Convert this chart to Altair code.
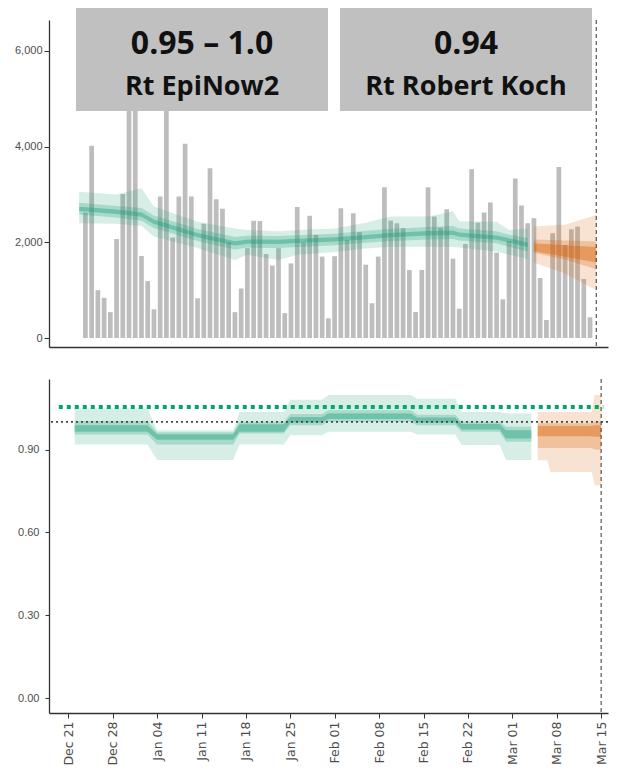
import altair as alt
import pandas as pd

# ---------------- data ----------------
# daily reported cases (bars), 2020-12-23 .. 2021-03-14
case_first_day = "2020-12-23"
cases = [2620, 4020, 1000, 840, 540, 2070, 3010, 5600, 6100,
         1715, 1190, 600, 2960, 5300, 2100, 2960, 4060, 2960, 830,
         2390, 3550, 2900, 2700, 2000, 540, 1035, 1880, 2450, 2445,
         1755, 1515, 1878, 520, 1560, 2740, 2000, 2555, 2155, 1702, 411,
         1710, 2713, 2050, 2608, 2211, 1534, 726, 1702, 3152, 2454,
         2399, 2294, 1423, 544, 1423, 3152, 2538, 2308, 2692, 1660,
         614, 1967, 3529, 2413, 2622, 2831, 1785, 809,
         2029, 3333, 2768, 2399, 2504, 1255, 377, 2190, 3577, 1946,
         2274, 2329, 1234, 433]

# estimated cases (green), credible bands
est_dates = ["2020-12-22", "2020-12-28", "2021-01-01", "2021-01-03", "2021-01-10",
             "2021-01-16", "2021-01-18", "2021-01-23", "2021-01-26", "2021-02-01",
             "2021-02-06", "2021-02-10", "2021-02-16", "2021-02-20", "2021-02-21",
             "2021-02-27", "2021-03-01", "2021-03-04"]
est_l90 = [2400, 2390, 2340, 2120, 1880, 1630, 1740, 1630, 1740, 1800, 1870, 1910, 1910, 1900, 1890, 1810, 1740, 1650]
est_u90 = [3060, 3000, 3130, 2750, 2430, 2290, 2260, 2230, 2260, 2290, 2410, 2540, 2540, 2650, 2440, 2430, 2260, 2290]
est_l50 = [2580, 2520, 2450, 2300, 2030, 1850, 1890, 1880, 1900, 1940, 1990, 2030, 2060, 2070, 2040, 1980, 1910, 1810]
est_u50 = [2830, 2760, 2720, 2560, 2280, 2110, 2140, 2130, 2150, 2180, 2240, 2280, 2320, 2340, 2290, 2230, 2160, 2090]
est_l20 = [2655, 2595, 2535, 2385, 2105, 1935, 1970, 1965, 1985, 2015, 2065, 2105, 2145, 2155, 2115, 2055, 1995, 1905]
est_u20 = [2745, 2685, 2625, 2475, 2195, 2025, 2060, 2055, 2075, 2105, 2155, 2195, 2235, 2245, 2205, 2145, 2085, 1995]

# forecast cases (orange)
fc_dates = ["2021-03-05", "2021-03-10", "2021-03-15"]
fc_l90 = [1580, 1350, 1000]
fc_u90 = [2330, 2370, 2570]
fc_l50 = [1780, 1640, 1440]
fc_u50 = [2060, 2040, 2015]
fc_l20 = [1810, 1700, 1580]
fc_u20 = [1980, 1940, 1900]

# Rt estimate (green)
rt_dates = ["2020-12-22T00:00", "2021-01-02T12:00", "2021-01-04T00:00", "2021-01-16T00:00",
            "2021-01-17T00:00", "2021-01-24T00:00", "2021-01-25T00:00", "2021-01-30T00:00",
            "2021-01-31T00:00", "2021-02-13T00:00", "2021-02-14T00:00", "2021-02-20T00:00",
            "2021-02-21T00:00", "2021-02-27T00:00", "2021-02-28T00:00", "2021-03-04T00:00"]
rt_l90 = [0.918, 0.918, 0.862, 0.862, 0.918, 0.918, 0.952, 0.952, 0.964, 0.964, 0.954, 0.954, 0.916, 0.916, 0.862, 0.862]
rt_l50 = [0.954, 0.954, 0.918, 0.918, 0.958, 0.958, 0.988, 0.988, 1.000, 1.000, 0.988, 0.988, 0.964, 0.964, 0.928, 0.928]
rt_l20 = [0.964, 0.964, 0.935, 0.935, 0.964, 0.964, 0.998, 0.998, 1.010, 1.010, 0.998, 0.998, 0.972, 0.972, 0.940, 0.940]
rt_u20 = [0.988, 0.988, 0.955, 0.955, 0.991, 0.991, 1.018, 1.018, 1.030, 1.030, 1.016, 1.016, 0.992, 0.992, 0.970, 0.970]
rt_u50 = [1.003, 1.003, 0.962, 0.962, 1.000, 1.000, 1.028, 1.028, 1.042, 1.042, 1.026, 1.026, 1.000, 1.000, 0.982, 0.982]
rt_u90 = [1.048, 1.048, 0.970, 0.970, 1.036, 1.036, 1.080, 1.080, 1.097, 1.097, 1.084, 1.084, 1.036, 1.036, 1.030, 1.030]

# Rt forecast (orange)
rtf_dates = ["2021-03-05T00:00", "2021-03-06T12:00", "2021-03-07T00:00",
             "2021-03-13T12:00", "2021-03-14T00:00", "2021-03-15T00:00"]
rtf_l90 = [0.861, 0.861, 0.819, 0.819, 0.771, 0.771]
rtf_l50 = [0.905, 0.905, 0.905, 0.905, 0.900, 0.900]
rtf_l20 = [0.948, 0.948, 0.948, 0.948, 0.946, 0.946]
rtf_u20 = [0.985, 0.985, 0.985, 0.985, 0.988, 0.988]
rtf_u50 = [0.995, 0.995, 0.995, 0.995, 1.000, 1.000]
rtf_u90 = [1.036, 1.036, 1.036, 1.036, 1.097, 1.097]

# reference lines
rt_reference = 1.0
rki_line_value = 1.054
rki_line_dates = ["2020-12-19T12:00", "2021-03-15T08:00"]
forecast_date = ["2021-03-15"]

# axes
x_tick_dates = ["2020-12-21", "2020-12-28", "2021-01-04", "2021-01-11", "2021-01-18",
                "2021-01-25", "2021-02-01", "2021-02-08", "2021-02-15", "2021-02-22",
                "2021-03-01", "2021-03-08", "2021-03-15"]
x_domain = ["2020-12-17T23:00", "2021-03-16T02:00"]
cases_ticks = [0, 2000, 4000, 6000]
cases_domain = [-188, 6648]
rt_ticks = [0.0, 0.3, 0.6, 0.9]
rt_domain = [-0.053, 1.155]

# box annotations
box_values = ["0.95 – 1.0", "0.94"]
box_labels = ["Rt EpiNow2", "Rt Robert Koch"]

# ---------------- build ----------------
def dt(s):
    t = pd.Timestamp(s)
    return alt.DateTime(year=t.year, month=t.month, date=t.day, hours=t.hour, minutes=t.minute)

W = 559
H_TOP = 327
H_BOT = 334
GREEN = "#1B9E77"
ORANGE = "#D95F02"
AXC = "#333333"
LABC = "#4D4D4D"

xscale = alt.Scale(domain=[dt(d) for d in x_domain], nice=False)

def ts(lst):
    return pd.to_datetime(lst)

df_cases = pd.DataFrame({"date": pd.date_range(case_first_day, periods=len(cases), freq="D"),
                         "cases": cases})
df_est = pd.DataFrame({"date": ts(est_dates), "l90": est_l90, "u90": est_u90, "l50": est_l50,
                       "u50": est_u50, "l20": est_l20, "u20": est_u20})
df_fc = pd.DataFrame({"date": ts(fc_dates), "l90": fc_l90, "u90": fc_u90, "l50": fc_l50,
                      "u50": fc_u50, "l20": fc_l20, "u20": fc_u20})
df_rt = pd.DataFrame({"date": ts(rt_dates), "l90": rt_l90, "u90": rt_u90, "l50": rt_l50,
                      "u50": rt_u50, "l20": rt_l20, "u20": rt_u20})
df_rtf = pd.DataFrame({"date": ts(rtf_dates), "l90": rtf_l90, "u90": rtf_u90, "l50": rtf_l50,
                       "u50": rtf_u50, "l20": rtf_l20, "u20": rtf_u20})
df_vline = pd.DataFrame({"date": ts(forecast_date)})
df_rki = pd.DataFrame({"start": ts([rki_line_dates[0]]), "end": ts([rki_line_dates[1]]),
                       "value": [rki_line_value]})
df_ref = pd.DataFrame({"value": [rt_reference]})

ylab_font = "Liberation Sans Narrow, Liberation Sans, sans-serif"

top_x_axis = alt.Axis(labels=False, ticks=False, grid=False, title=None, domainColor=AXC,
                      domainWidth=1.3, maxExtent=0, minExtent=0)
bot_x_axis = alt.Axis(values=[dt(d) for d in x_tick_dates], format="%b %d", labelAngle=270,
                      labelFont="DejaVu Sans", labelFontSize=12.5, labelColor=LABC,
                      tickColor=AXC, tickSize=5, labelPadding=3, grid=False, title=None,
                      domainColor=AXC, domainWidth=1.3)
top_y_axis = alt.Axis(values=cases_ticks, format=",.0f", labelFont=ylab_font, labelFontSize=11,
                      labelColor=LABC, tickColor=AXC, tickSize=5, labelPadding=2, grid=False,
                      title=None, domainColor=AXC, domainWidth=1.3, minExtent=41, maxExtent=41)
bot_y_axis = alt.Axis(values=rt_ticks, format=".2f", labelFont=ylab_font, labelFontSize=11,
                      labelColor=LABC, tickColor=AXC, tickSize=4, labelPadding=6, grid=False,
                      title=None, domainColor=AXC, domainWidth=1.3, minExtent=41, maxExtent=41)

cscale = alt.Scale(domain=cases_domain, nice=False, zero=False)
rscale = alt.Scale(domain=rt_domain, nice=False, zero=False)

bars = alt.Chart(df_cases).mark_bar(color="#BDBDBD", size=4.7).encode(
    x=alt.X("date:T", scale=xscale, axis=top_x_axis),
    y=alt.Y("cases:Q", scale=cscale, axis=top_y_axis),
)

def bands(df, color, scale):
    layers = []
    for lo, hi, op in [("l90", "u90", 0.18), ("l50", "u50", 0.25), ("l20", "u20", 0.4)]:
        layers.append(alt.Chart(df).mark_area(color=color, opacity=op).encode(
            x=alt.X("date:T", scale=xscale),
            y=alt.Y(f"{lo}:Q", scale=scale),
            y2=alt.Y2(f"{hi}:Q"),
        ))
    return layers

vline = alt.Chart(df_vline).mark_rule(color=AXC, strokeDash=[4, 3], strokeWidth=1).encode(
    x=alt.X("date:T", scale=xscale))

one = alt.Data(values=[{}])
box_layers = []
for i, (x0, x1) in enumerate([(27, 279), (291, 543)]):
    box_layers.append(alt.Chart(one).mark_rect(color="#C0C0C0").encode(
        x=alt.value(x0), x2=alt.value(x1), y=alt.value(-12), y2=alt.value(91)))
    cx = (x0 + x1) / 2
    box_layers.append(alt.Chart(one).mark_text(
        text=box_values[i], font="Open Sans", fontWeight="bold", fontSize=32,
        color="#111111", align="center", baseline="alphabetic").encode(
        x=alt.value(cx), y=alt.value(34)))
    box_layers.append(alt.Chart(one).mark_text(
        text=box_labels[i], font="Open Sans", fontWeight="bold", fontSize=27,
        color="#111111", align="center", baseline="alphabetic").encode(
        x=alt.value(cx), y=alt.value(75)))

top = alt.layer(
    bars, *bands(df_est, GREEN, cscale), *bands(df_fc, ORANGE, cscale), vline, *box_layers
).properties(width=W, height=H_TOP)

ref_rule = alt.Chart(df_ref).mark_rule(color="#444444", strokeDash=[2, 3], strokeWidth=1.6).encode(
    y=alt.Y("value:Q", scale=rscale))
rki_rule = alt.Chart(df_rki).mark_rule(color="#00A86B", strokeDash=[4, 4], strokeWidth=4,
                                        strokeCap="butt").encode(
    x=alt.X("start:T", scale=xscale), x2="end:T", y=alt.Y("value:Q", scale=rscale))

rt_first = bands(df_rt, GREEN, rscale)
rt_first[0] = rt_first[0].encode(
    x=alt.X("date:T", scale=xscale, axis=bot_x_axis),
    y=alt.Y("l90:Q", scale=rscale, axis=bot_y_axis),
)

bottom = alt.layer(
    *rt_first, *bands(df_rtf, ORANGE, rscale), ref_rule, rki_rule, vline
).properties(width=W, height=H_BOT)

chart = alt.vconcat(top, bottom, spacing=30).properties(padding=0).configure_view(stroke=None)

chart.save("out.html", embed_options={"renderer": "svg", "actions": False})
